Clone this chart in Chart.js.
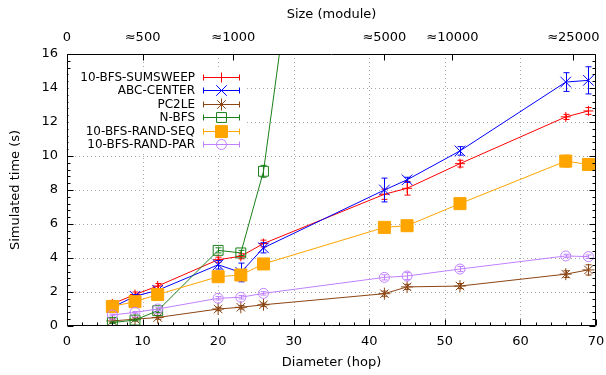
<!DOCTYPE html>
<html>
<head>
<meta charset="utf-8">
<script src="https://cdn.jsdelivr.net/npm/chart.js@4.4.1/dist/chart.umd.min.js"></script>
<style>
  html, body { margin: 0; padding: 0; background: #fff; }
  #wrap { width: 606px; height: 375px; }
</style>
</head>
<body>
<div id="wrap"><canvas id="chart" width="606" height="375"></canvas></div>
<script>
// diameters (hop) of the test graphs
const diameters = [6, 9, 12, 20, 23, 26, 42, 45, 52, 66, 69];

const sumsweep    = [1.3, 1.85, 2.35, 3.9, 4.1, 4.85, 7.75, 8.1, 9.55, 12.3, 12.65];
const sumsweepErr = [0.2, 0.15, 0.15, 0.15, 0.15, 0.2, 0.3, 0.4, 0.2, 0.15, 0.2];
const abcCenter    = [1.1, 1.75, 2.1, 3.6, 3.15, 4.6, 8.0, 8.6, 10.3, 14.35, 14.45];
const abcCenterErr = [0.1, 0.1, 0.1, 0.25, 0.55, 0.3, 0.7, 0.15, 0.25, 0.55, 0.8];
const pc2le    = [0.3, 0.4, 0.5, 1.0, 1.1, 1.25, 1.9, 2.3, 2.35, 3.05, 3.3];
const pc2leErr = [0.1, 0.1, 0.1, 0.1, 0.1, 0.1, 0.15, 0.15, 0.15, 0.2, 0.3];
const nbfs    = [0.2, 0.35, 0.9, 4.45, 4.3, 9.1, 61.5, null, null, null, null];
const nbfsErr = [0.05, 0.05, 0.1, 0.15, 0.15, 0.35, 0, 0, 0, 0, 0];
const randSeq    = [1.15, 1.43, 1.85, 2.9, 3.0, 3.65, 5.8, 5.9, 7.2, 9.7, 9.5];
const randSeqErr = [0.1, 0.1, 0.1, 0.1, 0.1, 0.1, 0.25, 0.15, 0.25, 0.35, 0.3];
const randPar    = [0.65, 0.8, 1.0, 1.63, 1.69, 1.92, 2.86, 2.94, 3.35, 4.12, 4.08];
const randParErr = [0.05, 0.05, 0.1, 0.1, 0.1, 0.1, 0.15, 0.2, 0.15, 0.1, 0.1];

const xTicks = [0, 10, 20, 30, 40, 50, 60, 70];
const yTicks = [0, 2, 4, 6, 8, 10, 12, 14, 16];
const sizeTicks  = [0, 10, 22, 42, 51, 67];
const sizeLabels = ['0', '≈500', '≈1000', '≈5000', '≈10000', '≈25000'];

const FONT = 'DejaVu Sans';

const series = [
  { label: '10-BFS-SUMSWEEP',   data: sumsweep,  err: sumsweepErr,  color: '#ff0000', style: 'cross',    r: 5,   fill: false },
  { label: 'ABC-CENTER',        data: abcCenter, err: abcCenterErr, color: '#0000ff', style: 'crossRot', r: 7.5, fill: false },
  { label: 'PC2LE',             data: pc2le,     err: pc2leErr,     color: '#8b4513', style: 'star',     r: 6,   fill: false },
  { label: 'N-BFS',             data: nbfs,      err: nbfsErr,      color: '#1a801a', style: 'rect',     r: 7,   fill: false },
  { label: '10-BFS-RAND-SEQ',   data: randSeq,   err: randSeqErr,   color: '#ffa500', style: 'rect',     r: 8.5, fill: true },
  { label: '10-BFS-RAND-PAR',   data: randPar,   err: randParErr,   color: '#c080ff', style: 'circle',   r: 5,   fill: false }
];

const datasets = series.map((s, i) => ({
  label: s.label,
  data: diameters.map((d, j) => ({ x: d, y: s.data[j] })),
  errors: s.err,
  borderColor: s.color,
  backgroundColor: s.fill ? s.color : 'rgba(0,0,0,0)',
  pointBorderColor: s.color,
  pointBackgroundColor: s.fill ? s.color : 'rgba(0,0,0,0)',
  pointStyle: s.style,
  pointRadius: s.r,
  pointBorderWidth: 1,
  borderWidth: 1,
  tension: 0,
  spanGaps: false,
  order: series.length - i
}));

// vertical error bars, drawn right after each dataset
const errorBars = {
  id: 'errorBars',
  afterDatasetDraw(chart, args) {
    const ds = chart.data.datasets[args.index];
    const { ctx, chartArea: a } = chart;
    const y = chart.scales.y;
    ctx.save();
    ctx.beginPath();
    ctx.rect(a.left, a.top, a.right - a.left, a.bottom - a.top);
    ctx.clip();
    ctx.strokeStyle = ds.borderColor;
    ctx.lineWidth = 1;
    ctx.beginPath();
    args.meta.data.forEach((pt, j) => {
      const v = ds.data[j].y;
      const e = ds.errors[j];
      if (v == null || !e) return;
      const px = Math.round(pt.x) + 0.5;
      const top = y.getPixelForValue(v + e);
      const bot = y.getPixelForValue(v - e);
      ctx.moveTo(px, top); ctx.lineTo(px, bot);
      ctx.moveTo(px - 3, top); ctx.lineTo(px + 3, top);
      ctx.moveTo(px - 3, bot); ctx.lineTo(px + 3, bot);
    });
    ctx.stroke();
    ctx.restore();
  }
};

// gnuplot-like frame: dotted grid, inward ticks, key
const frame = {
  id: 'frame',
  beforeDatasetsDraw(chart) {
    const { ctx, chartArea: a, scales: { x, y } } = chart;
    ctx.save();
    ctx.strokeStyle = '#a8a8a8';
    ctx.lineWidth = 1;
    ctx.setLineDash([1, 3]);
    ctx.beginPath();
    xTicks.slice(1, -1).forEach(v => {
      const px = Math.round(x.getPixelForValue(v)) + 0.5;
      ctx.moveTo(px, a.top); ctx.lineTo(px, a.bottom);
    });
    yTicks.slice(1, -1).forEach(v => {
      const py = Math.round(y.getPixelForValue(v)) + 0.5;
      ctx.moveTo(a.left, py); ctx.lineTo(a.right, py);
    });
    ctx.stroke();
    ctx.restore();
  },
  afterDraw(chart) {
    const { ctx, chartArea: a, scales: { x, y } } = chart;
    const L = Math.round(a.left) + 0.5, R = Math.round(a.right) - 0.5;
    const T = Math.round(a.top) + 0.5, B = Math.round(a.bottom) - 0.5;
    ctx.save();
    ctx.strokeStyle = '#000';
    ctx.lineWidth = 1;
    ctx.beginPath();
    ctx.rect(L, T, R - L, B - T);
    // y ticks, left and mirrored right
    for (let i = 0; i <= 40; i++) {
      const v = i * 0.4;
      const py = Math.round(y.getPixelForValue(v)) + 0.5;
      const len = i % 5 === 0 ? 6 : 3;
      ctx.moveTo(L, py); ctx.lineTo(L + len, py);
      ctx.moveTo(R, py); ctx.lineTo(R - len, py);
    }
    // x ticks at the bottom
    for (let v = 0; v <= 70; v += 2) {
      const px = Math.round(x.getPixelForValue(v)) + 0.5;
      const len = v % 10 === 0 ? 6 : 3;
      ctx.moveTo(px, B); ctx.lineTo(px, B - len);
    }
    // size ticks at the top
    sizeTicks.forEach(v => {
      const px = Math.round(chart.scales.x2.getPixelForValue(v)) + 0.5;
      ctx.moveTo(px, T); ctx.lineTo(px, T + 6);
    });
    ctx.stroke();

    // key
    const rows = 13.4, y0 = 77, textR = 195, l0 = 203, l1 = 240, pm = 221.5;
    ctx.fillStyle = '#fff';
    ctx.fillRect(L + 1, 69, 246 - L, 82);
    ctx.font = '12px "' + FONT + '"';
    ctx.textAlign = 'right';
    ctx.textBaseline = 'middle';
    datasets.forEach((ds, i) => {
      const ry = Math.round(y0 + i * rows) + 0.5;
      ctx.fillStyle = '#000';
      ctx.fillText(ds.label, textR, ry);
      ctx.strokeStyle = ds.borderColor;
      ctx.lineWidth = 1;
      ctx.beginPath();
      ctx.moveTo(l0, ry); ctx.lineTo(l1, ry);
      ctx.moveTo(l0 + 0.5, ry - 3); ctx.lineTo(l0 + 0.5, ry + 3);
      ctx.moveTo(l1 - 0.5, ry - 3); ctx.lineTo(l1 - 0.5, ry + 3);
      ctx.stroke();
      ctx.fillStyle = ds.pointBackgroundColor;
      ctx.strokeStyle = ds.borderColor;
      Chart.helpers.drawPoint(ctx, { pointStyle: ds.pointStyle, radius: ds.pointRadius, rotation: 0, borderWidth: 1 }, pm, ry);
    });
    ctx.restore();
  }
};

const tickFont = { family: FONT, size: 13 };
const noPad = s => { s.paddingLeft = 0; s.paddingRight = 0; s.paddingTop = 0; s.paddingBottom = 0; };

new Chart(document.getElementById('chart'), {
  type: 'line',
  data: { datasets },
  options: {
    responsive: false,
    animation: false,
    devicePixelRatio: 1,
    layout: { padding: { left: 0, right: 10, top: 0, bottom: 0 } },
    plugins: { legend: { display: false }, tooltip: { enabled: false } },
    scales: {
      x: {
        type: 'linear', position: 'bottom', min: 0, max: 70,
        afterBuildTicks: s => { s.ticks = xTicks.map(v => ({ value: v })); },
        afterFit: s => { s.height = 49; noPad(s); },
        grid: { display: false, drawTicks: false },
        border: { display: false },
        ticks: { font: tickFont, color: '#000', padding: 8, maxRotation: 0, autoSkip: false },
        title: { display: true, text: 'Diameter (hop)', font: tickFont, color: '#000', padding: { top: 0, bottom: 5 } }
      },
      x2: {
        type: 'linear', position: 'top', min: 0, max: 70,
        afterBuildTicks: s => { s.ticks = sizeTicks.map(v => ({ value: v })); },
        afterFit: s => { s.height = 54; noPad(s); },
        grid: { display: false, drawTicks: false },
        border: { display: false },
        ticks: { font: tickFont, color: '#000', padding: 9, maxRotation: 0, autoSkip: false,
          callback: v => sizeLabels[sizeTicks.indexOf(v)] },
        title: { display: true, text: 'Size (module)', font: tickFont, color: '#000', padding: { top: 7, bottom: 0 } }
      },
      y: {
        type: 'linear', min: 0, max: 16,
        afterBuildTicks: s => { s.ticks = yTicks.map(v => ({ value: v })); },
        afterFit: s => { s.width = 67; noPad(s); },
        grid: { display: false, drawTicks: false },
        border: { display: false },
        ticks: { font: tickFont, color: '#000', padding: 9 },
        title: { display: true, text: 'Simulated time (s)', font: tickFont, color: '#000', padding: { top: 8, bottom: 0 } }
      }
    }
  },
  plugins: [frame, errorBars]
});
</script>
</body>
</html>
